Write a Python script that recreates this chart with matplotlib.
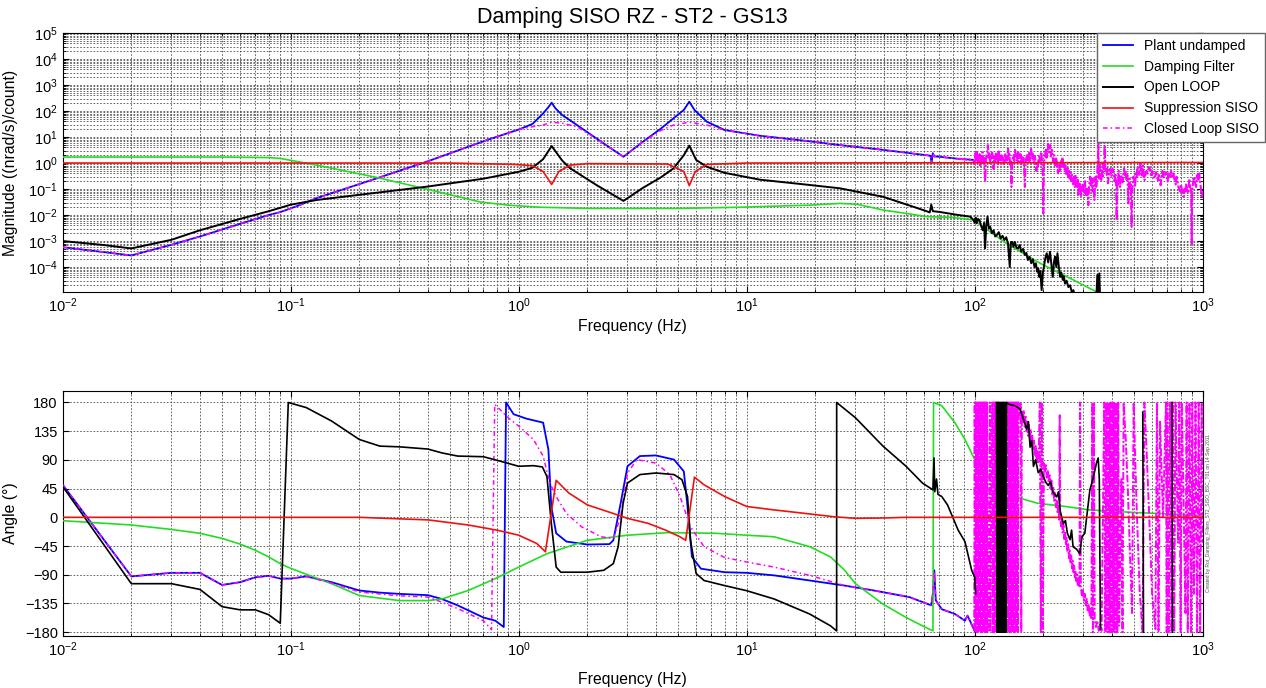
import matplotlib
matplotlib.use("Agg")
import matplotlib.pyplot as plt
from matplotlib.ticker import LogLocator, NullFormatter

plt.rcParams["font.family"] = ["Liberation Sans", "DejaVu Sans"]
plt.rcParams["mathtext.default"] = "regular"

NAN = float("nan")  # gaps where a trace is hidden behind another one

# ---------------- magnitude (top) ----------------
plant_mag_f = [0.01, 0.015, 0.02, 0.03, 0.04, 0.06, 0.08, 0.09, 0.108, 0.13, 0.2, 0.394,
               0.724, 1.01, 1.15, 1.28, 1.35, 1.395, 1.45, 1.55, 1.8, 2.3, 2.88, 3.5, 4.2,
               4.77, 5.3, 5.6, 5.9, 6.68, 8, 11.4, 18, 25.6, 39.8, 61.5, 64.0, 64.7, 65.5,
               66.5, 70, 85, 98.6]
plant_mag = [5.8e-4, 3.8e-4, 2.8e-4, 7.2e-4, 1.5e-3, 4.6e-3, 1.0e-2, 1.3e-2, 2.3e-2, 4.5e-2,
             0.155, 1.12, 7.6, 20, 32, 81, 141, 209, 126, 71, 29, 6.6, 1.74, 6.5, 21,
             52, 110, 229, 110, 39, 18.6, 11.2, 7.2, 4.9, 3.2, 2.0, 1.9, 1.0, 2.4,
             1.8, 1.74, 1.45, 1.32]

filter_mag_f = [0.01, 0.05, 0.08, 0.0897, 0.13, 0.238, 0.394, 0.676, 0.9, 1.24, 2, 5, 9.36,
                13.2, 18.9, 25.6, 30.5, 39.8, 50.3, 61.5, 80, 98.6, 138, 194, 271, 343,
                400, 1000]
filter_mag = [1.7, 1.7, 1.62, 1.51, 0.83, 0.28, 0.1, 0.032, 0.024, 0.02, 0.018, 0.018, 0.02,
              0.022, 0.024, 0.028, 0.026, 0.0155, 0.0115, 0.0087, 0.0081, 0.0065, 8.1e-4,
              1.38e-4, 3.2e-5, 1.1e-5, 5e-6, 1e-7]

loop_mag_f = [0.01, 0.015, 0.02, 0.03, 0.04, 0.06, 0.08, 0.1, 0.13, 0.2, 0.394, 0.7, 1.01,
              1.15, 1.28, 1.395, 1.55, 1.68, 2.2, 2.88, 3.5, 4.2, 4.77, 5.3, 5.6, 6.0, 6.68,
              8, 11.4, 18, 25.6, 39.8, 61.5, 63.5, 64.5, 65.5, 70, 85, 95.6]
loop_mag = [1.0e-3, 7.1e-4, 5.2e-4, 1.12e-3, 2.6e-3, 7.1e-3, 1.4e-2, 2.5e-2, 3.8e-2, 6.0e-2,
            0.123, 0.25, 0.47, 0.66, 1.41, 4.5, 1.26, 0.63, 0.14, 0.035, 0.11, 0.28, 0.62,
            2.0, 4.7, 1.32, 0.72, 0.42, 0.23, 0.15, 0.107, 0.05, 0.0141, 0.0126, 0.025,
            0.0141, 0.0132, 0.01, 0.0087]
# measured (noisy) part above 100 Hz
loop_mag_hf_f = [98.6, 100, 101, 102, 103.5, 105, 106.5, 108.5, 110, 111, 112.5, 113.8,
                 115.5, 117, 119, 121, 123, 125, 127.5, 130, 132.5, 135, 137.5, 140, 142.5,
                 144, 146, 148, 150, 152.5, 155, 157.5, 160, 163, 166, 168.5, 171, 174,
                 177, 180, 183, 185.5, 188, 190, 192, 194, 196.6, 199, 201, 204, 207, 210,
                 214, 217, 220, 222.5, 225, 228, 230.6, 234, 237, 240, 243.5, 246, 249,
                 253, 257.5, 262, 266.5, 271, 275.6, 290, 340, 345, 348.6, 352, 356, 400,
                 1000]
loop_mag_hf = [6.5e-3, 5.0e-3, 8.0e-3, 4.8e-3, 7.0e-3, 6.3e-3, 4.0e-3, 2.6e-3, 5.0e-3, 5.2e-4,
               4.0e-3, 8.7e-3, 3.0e-3, 3.5e-3, 2.0e-3, 2.6e-3, 1.5e-3, 1.7e-3, 2.2e-3, 1.26e-3,
               1.6e-3, 1.1e-3, 1.4e-3, 8.1e-4, 1.0e-4, 9.0e-4, 9.3e-4, 6.0e-4, 9.3e-4, 5.5e-4,
               5.2e-4, 7.0e-4, 3.9e-4, 5.0e-4, 2.9e-4, 3.5e-4, 1.86e-4, 2.5e-4, 1.4e-4, 2.0e-4,
               1.0e-4, 1.4e-4, 6.6e-5, 9.0e-5, 4.2e-5, 7.0e-5, 1.3e-5, 6.0e-5, 1.0e-4, 2.2e-4,
               3.4e-4, 1.5e-4, 3.9e-4, 1.2e-4, 4.2e-5, 1.5e-4, 2.5e-4, 1.0e-4, 3.4e-4, 1.0e-4,
               4.2e-5, 6.0e-5, 3.2e-5, 4.5e-5, 2.3e-5, 3.0e-5, 1.7e-5, 2.0e-5, 1.1e-5, 1.3e-5,
               7.2e-6, 3e-6, 2.5e-6, 5e-5, 3e-6, 5.7e-5, 2.5e-6, 1.6e-6, 1e-7]

supp_mag_f = [0.01, 0.5, 0.95, 1.15, 1.28, 1.395, 1.5, 1.68, 2.0, 4.5, 5.3, 5.6, 5.95, 6.68,
              10, 1000]
supp_mag = [1.0, 1.0, 0.89, 0.79, 0.47, 0.15, 0.47, 0.83, 0.95, 0.92, 0.47, 0.135, 0.47,
            0.89, 1.0, 1.05]

closed_mag_f = [0.01, 0.015, 0.02, 0.03, 0.04, 0.06, 0.08, 0.09, 0.108, 0.13, 0.2, 0.394,
                0.724, 1.01, 1.15, 1.28, 1.395, 1.55, 1.8, 2.3, 2.88, 3.5, 4.2, 4.77, 5.6,
                6.68, 8, 11.4, 18, 25.6, 39.8, 61.5, 64.0, 64.7, 65.5, 66.5, 70, 85]
closed_mag = [5.8e-4, 3.8e-4, 2.8e-4, 7.2e-4, 1.5e-3, 4.6e-3, 1.0e-2, 1.3e-2, 2.3e-2, 4.5e-2,
              0.155, 1.12, 7.6, 20, 25, 29, 37, 34, 25, 6.6, 1.74, 6.5, 17.8, 29, 37,
              29, 18.6, 11.2, 7.2, 4.9, 3.2, 2.0, 1.9, 1.0, 2.4, 1.8, 1.74, 1.45]
closed_mag_hf_f = [98.6, 99.5, 100, 100.6, 101.2, 102, 102.7, 103.4, 104.2, 105, 105.8, 106.6,
                   107.4, 108.2, 109, 109.8, 110.5, 111.2, 112, 112.8, 113.5, 114.3, 115, 116,
                   116.8, 117.6, 118.5, 119.3, 120.2, 121, 121.9, 122.8, 123.7, 124.6, 125.5,
                   126.4, 127.3, 128.2, 129.1, 130, 131, 132, 133, 134, 135, 136, 137, 138,
                   139, 140, 141, 142, 143, 144, 145, 146, 147, 148, 149.2, 150.4, 151.6,
                   152.8, 154, 155.2, 156.4, 157.6, 158.8, 160, 161.2, 162.4, 163.6, 164.8,
                   166, 167.2, 168.4, 169.6, 170.8, 172, 173.2, 174.4, 175.6, 176.8, 178,
                   179.4, 180.8, 182.2, 183.6, 185, 186.4, 187.8, 189.2, 190.6, 192, 193.4,
                   194.8, 196.2, 197.6, 199, 200, 201, 202.4, 203.8, 205.2, 206.6, 208,
                   209.5, 211, 212.5, 214, 215.5, 217, 218.5, 220, 221.5, 223, 224.5, 226,
                   227.5, 229, 230.5, 232, 233.5, 235, 236.5, 238, 239.5, 241, 242.5, 244,
                   245.5, 247, 248.5, 250, 251.5, 253, 254.5, 256, 257.5, 259, 261, 263, 265,
                   267, 269, 271, 273, 275, 277, 279, 281, 283, 285, 287, 289, 291, 293, 295,
                   297, 299, 301, 303, 305, 307, 309, 311, 313, 315, 317, 319, 321, 323, 325,
                   327, 329, 331, 333, 335, 337, 339, 341, 343, 345, 347, 348.6, 350, 352,
                   354, 356.5, 359, 361.5, 364, 366.5, 369, 371.5, 374, 376.5, 379, 381.5,
                   384, 387, 390, 393, 396, 399, 402, 405, 408, 411, 414, 417, 419.5, 422,
                   425, 428, 431, 434, 437, 440, 443, 446, 449, 452, 455, 458, 461, 464, 467,
                   470, 472, 475, 478, 481, 484, 488, 491, 494, 497, 501, 505, 509, 513, 517,
                   521, 526, 531, 536, 541, 546, 551, 556, 561, 566, 571, 576, 581, 586, 591,
                   596, 601, 606, 612, 618, 624, 630, 636, 642, 648, 654, 660, 666, 672, 678,
                   684, 690, 696, 702, 708, 714, 720, 726, 732, 738, 744, 750, 756, 762, 768,
                   775, 782, 789, 796, 803, 810, 817, 824, 831, 838, 845, 852, 859, 866, 873,
                   880, 887, 891, 895, 899, 905, 911, 917, 923, 929, 935, 941, 947, 953, 959,
                   965, 971, 977, 983, 989, 995, 1000]
closed_mag_hf = [1.32, 0.9, 1.1, 2.4, 1.3, 2.7, 1.2, 2.0, 1.0, 2.2, 0.8, 1.8,
                 1.1, 2.6, 0.9, 1.6, 0.5, 0.19, 1.4, 2.2, 3.0, 4.9, 1.6, 2.3,
                 1.0, 1.7, 1.32, 2.5, 1.1, 0.6, 1.8, 1.1, 2.3, 1.4, 2.0,
                 0.9, 2.8, 1.2, 1.9, 1.1, 2.0, 1.3, 1.74, 0.9, 1.5, 2.4, 1.1, 1.8,
                 1.3, 3.6, 1.7, 2.2, 0.8, 1.3, 0.12, 1.0, 1.6, 2.0, 1.2, 3.2, 1.6,
                 2.3, 1.2, 2.6, 1.1, 1.5, 2.2, 0.9, 1.7, 1.0, 1.6, 0.6,
                 0.12, 1.0, 1.6, 2.0, 1.1, 1.32, 2.8, 1.2, 1.8, 3.5, 1.6,
                 2.3, 1.3, 1.0, 1.9, 1.1, 0.5, 1.0, 0.72, 1.6, 2.0, 1.2,
                 2.2, 2.7, 1.0, 0.4, 0.0115, 0.8, 1.5, 2.0, 3.6, 1.6, 2.4,
                 5.5, 2.6, 3.4, 4.9, 1.8, 2.6, 3.2, 1.5, 1.1, 2.0, 1.74, 0.7,
                 1.5, 1.2, 0.6, 0.4, 0.9, 1.0, 0.5, 0.8, 1.2, 0.7, 1.5, 1.0,
                 0.6, 0.9, 0.5, 0.8, 0.35, 0.6, 0.4, 0.63, 0.3, 0.5, 0.25, 0.45, 0.2,
                 0.35, 0.3, 0.15, 0.3, 0.12, 0.35, 0.15, 0.12, 0.25, 0.06, 0.18, 0.1, 0.15, 0.05, 0.12,
                 0.08, 0.15, 0.07, 0.09, 0.2, 0.06, 0.12, 0.05, 0.1, 0.024, 0.1, 0.2, 0.3, 0.12, 0.166,
                 0.25, 0.08, 0.25, 0.1, 0.038, 0.15, 0.3, 0.12, 0.15, 0.5, 1.5, 5.8, 0.4, 0.25,
                 0.8, 0.3, 0.22, 0.5, 0.3, 1.0, 0.5, 4.9, 0.6, 0.4, 0.35, 0.6,
                 0.166, 0.3, 0.5, 0.6, 0.3, 0.35, 0.6, 0.54, 0.3, 0.2, 0.4, 0.15, 0.0063, 0.2,
                 0.15, 0.5, 0.25, 0.12, 0.3, 0.35, 0.2, 0.18, 0.4, 0.6, 0.35, 0.54, 0.3, 0.2, 0.35,
                 0.1, 0.028, 0.2, 0.25, 0.1, 0.15, 0.0035, 0.1, 0.15, 0.3, 0.2, 0.12, 0.4, 0.3, 0.7,
                 0.5, 0.35, 0.98, 0.45, 0.3, 0.8, 0.3, 0.22, 0.4, 0.5, 0.35, 0.5, 0.7, 0.63, 0.4,
                 0.3, 0.5, 0.35, 0.25, 0.3, 0.45, 0.3, 0.2, 0.35, 0.25, 0.14, 0.3, 0.5, 0.25, 0.4,
                 0.35, 0.45, 0.3, 0.2, 0.4, 0.3, 0.26, 0.5, 0.35, 0.3, 0.4, 0.25, 0.2, 0.15, 0.3,
                 0.2, 0.12, 0.1, 0.08, 0.15, 0.1, 0.06, 0.05, 0.1, 0.08, 0.15, 0.1, 0.07, 0.08, 0.25,
                 0.12, 0.1, 0.03, 0.00081, 0.05, 0.15, 0.2, 0.3, 0.26, 0.15, 0.12, 0.25, 0.35, 0.2, 0.22,
                 0.4, 0.25, 0.15, 0.1, 0.044, 0.06, 0.08]

# ---------------- phase (bottom) ----------------
plant_ph_f = [0.01, 0.02, 0.03, 0.04, 0.05, 0.06, 0.07, 0.08, 0.09, 0.1, 0.117, 0.151, 0.2,
              0.246, 0.3, 0.4, 0.46, 0.54, 0.7, 0.79, 0.86, 0.88, 0.95, 1.08, 1.28, 1.35,
              1.39, 1.46, 1.62, 2.0, 2.5, 2.6, 2.8, 3.0, 3.4, 4.0, 4.8, 5.3, 5.5, 5.75,
              6.3, 8, 10, 13.2, 18.9, 26.9, 36.5, 51.7, 64.5, 65.5, 66.5, 67.5, 71.7, 82,
              90.6, 93, 100]
plant_ph = [51, -92.6, -87, -87, -106, -101.6, -94, -91.6, -96, -96, -92.6, -101.6, -114.7,
            -118, -120, -122, -128, -138, -157, -162, -172, 180, 161.6, 154.7, 148.4, 106,
            17, -25, -38, -42.6, -42, -36, 22, 80, 96, 97, 90.5, 72, 17, -62,
            -80.5, -86, -87, -91, -99, -107, -115, -125, -138, -120, -83, -130, -144, -151.6,
            -162, -154, -178]

filter_ph_f = [0.01, 0.02, 0.03, 0.04, 0.05, 0.06, 0.07, 0.08, 0.09, 0.1, 0.151, 0.2, 0.3,
               0.4, 0.46, 0.6, 0.79, 1.0, 1.33, 2.0, 3, 4.5, 7.3, 10, 13.2, 18.9, 23.3, 26.9,
               30, 39.6, 50, 59, 65.6, 66, 71.7, 82, 90.6, 100, 105, 115, 130, 158, 189,
               250, 320, 510, 730, 1000]
filter_ph = [-5.3, -12, -19, -25, -33, -42, -51.6, -62, -72.6, -80, -104, -122.6, -130.5,
             -130.5, -128, -114.7, -96, -78, -57, -36, -28, -24, -25, -28, -30.5, -46, -62, -83,
             -104, -136, -157, -170, -178, 180, 175, 148, 122, 90.5, 80, 62, 45, 30, 22,
             17, 11.6, 7.4, 5.3, 2]

loop_ph_f = [0.01, 0.02, 0.03, 0.04, 0.05, 0.06, 0.07, 0.08, 0.09, 0.0976, 0.117, 0.151, 0.2,
             0.246, 0.3, 0.4, 0.46, 0.54, 0.7, 0.83, 1.0, 1.16, 1.27, 1.33, 1.39, 1.46, 1.53,
             2.0, 2.36, 2.6, 2.73, 2.87, 3.0, 3.4, 4.0, 4.8, 5.2, 5.5, 5.67, 6.0, 6.5, 8,
             10, 13.2, 18.9, 23.3, 24.8, 24.81, 30, 39.6, 50, 59, 65.6, 66.3, 66.8, 68, 69,
             71.7, 76, 84.6, 90.6, 93, 97]
loop_ph = [48.4, -104, -104, -113, -140, -145, -145, -152.6, -166, 180, 172, 151, 122,
           111.6, 110.5, 107, 101, 96, 95, 88, 80, 81, 79, 64, -9.5, -78, -86,
           -86, -83, -72.6, -46, 22, 53.7, 67, 69.5, 67, 59, 32.6, -36, -88, -99, -107,
           -115, -128, -151.6, -170, -178, 180, 156, 111.6, 80, 53.7, 43, 93, 40, 60, 36,
           32.6, 19.5, -20, -38, -55, -83]
loop_ph_hf_f = [100, 101, 102, 124.6,
                125.2, 125.8, 126.4, 127, 127.6, 128.2, 128.8, 129.4, 130, 130.6, 131.2,
                131.8, 132.4, 133, 133.6, 134.2, 134.8, 135.4, 136, 136.6, 137.2, 137.8,
                140, 145, 150, 158, 165, 169, 172, 175, 178, 181, 185, 190, 195, 200, 205,
                210, 215, 220, 229, 233, 237, 245, 250, 255, 262, 266, 270, 280, 289, 293,
                296, 304, 312, 320, 330, 342, 348, 352, 356, 358, 546, 550, 553, 733, 737,
                740]
loop_ph_hf = [-94, -120, NAN, 180,
              -180, 180, -180, 180, -180, 180, -180, 180, -180, 180, -180,
              180, -180, 180, -180, 180, -180, 180, -180, 180, -180, 180,
              178, 176, 175, 170, 150, 138, 150, 110, 120, 80, 90, 70, 75, 64, 55,
              50, 56, 40, 32, 40, 10, -10, -5, -25, -35, -20, -46, -50, -57, -40,
              -30, -25, 10, 43, 60, 85, 93, 60, -175, NAN, 165, -180, NAN, 180, -180,
              NAN]

supp_ph_f = [0.01, 0.2, 0.4, 0.6, 0.8, 1.0, 1.2, 1.31, 1.46, 1.66, 2, 2.6, 3, 3.7, 4.4, 5.1,
             5.4, 5.9, 6.5, 8, 10, 13.2, 18.9, 24, 30, 40, 50, 1000]
supp_ph = [0, 0, -4, -12, -20, -28, -41, -54, 58, 38, 19.5, 6, -1.6, -9.5, -20, -30.5,
           -36, 63, 51, 32.6, 17, 11.6, 5.3, 1, -1.6, -1, 0, 0]

closed_ph_f = [0.01, 0.02, 0.03, 0.04, 0.05, 0.06, 0.07, 0.08, 0.09, 0.1, 0.117, 0.151, 0.2,
               0.3, 0.4, 0.46, 0.54, 0.7, 0.76, 0.785, 0.9, 1.02, 1.16, 1.28, 1.37, 1.46,
               1.62, 1.89, 2.3, 2.6, 2.8, 3.0, 3.3, 4.0, 4.6, 5.1, 5.67, 6.5, 8, 10, 13.2,
               18.9, 26.9, 36.5, 51.7, 64.5, 65.5, 66.5, 67.5, 71.7, 82, 90.6, 93, 99.5]
closed_ph = [51, -92.6, -87, -87, -106, -101.6, -94, -91.6, -96, -96, -92.6, -103, -117,
             -123, -125, -133, -143, -162, -176, 177, 156, 140.5, 122, 96, 53.7, 32.6,
             6, -15, -30.5, -33, 1, 69.5, 90.5, 85, 67, 32.6, -15, -46, -63, -70, -78,
             -91, -107, -115, -125, -138, -120, -85, -130, -144, -151.6, -162, -154, -178]
closed_ph_hf_f = [100.0, 100.6, 101.2, 101.8, 102.4, 103.0, 103.6, 104.2, 104.8, 105.4, 106.0, 106.6,
                  107.2, 107.8, 108.4, 109.0, 109.6, 110.2, 110.8, 111.4, 112.0, 112.6, 113.2, 113.8,
                  115, 116.5, 117, 118.5, 119.5, 120, 121, 121.7, 122.4, 123.1, 123.8, 124.5,
                  127, 128, 131, 133, 134, 136,
                  138, 138.8, 139.6, 140.4, 141.2, 142, 142.8, 143.6, 144.4, 145.2, 146, 146.8,
                  147.6, 148.4, 149.2, 150, 150.8, 151.6, 152.4, 153.2, 154, 154.8, 155.6,
                  156.5, 158, 159, 160, 161, 162.5, 164, 165.5, 167, 168.5, 170, 171.5,
                  173, 174.5, 176, 177.5, 179, 180.5, 182, 183.5, 185, 186.5, 188, 189.5,
                  191, 193, 195, 197, 199, 201, 203, 205, 207, 209, 211, 213,
                  215, 217, 219, 221, 223, 225, 227, 229, 231, 233, 235, 236,
                  237, 239, 241, 243, 245, 247, 249, 251, 253, 255, 257, 259,
                  261, 263, 265, 267, 269, 271, 273, 275, 277, 279, 281, 283,
                  285, 288, 290, 292, 295, 298, 301, 304, 307, 310, 313, 316,
                  319, 322, 325, 328, 330, 333, 336, 340, 345, 350, 355, 360,
                  370, 374, 378, 382, 386, 390, 394, 398, 402, 406, 410, 414,
                  418, 422, 426, 430,
                  440, 445, 450, 460, 470, 480, 490, 498, 505, 515, 530, 545,
                  555, 565, 580, 600, 620, 630, 640, 650, 670, 690, 695, 700,
                  710, 720, 730, 740, 750, 760, 770, 780, 790, 800, 810, 825,
                  840, 850, 860, 875, 890, 900, 915, 930, 945, 960, 975, 990, 1000]
closed_ph_hf = [180, -180, 180, -180, 180, -180, 180, -180, 180, -180, 180, -180,
                180, -180, 180, -180, 180, -180, 180, -180, 180, -180, 180, -180,
                -150, 180, -180, 100, 180, -180, 180, -180, 180, -180, 180, -180,
                180, -180, -60, 180, -180, -100,
                180, -180, 180, -180, 180, -180, 180, -180, 180, -180, 180, -180,
                180, -180, 180, -180, 180, -180, 180, -180, 180, -180, 180,
                175, 160, 178, -180, 165, 150, 168, 142, 160, 135, 152, 128,
                145, 120, 138, 112, 128, 105, 120, 98, 112, 90, 104, 84,
                98, 180, -180, 180, -180, 85, 70, 82, 62, 74, 54, 66,
                45, 58, 36, 48, 26, 38, 16, 28, 6, 18, -4, 160,
                2, -14, -4, -24, -12, -34, -22, -44, -32, -54, -42, -64,
                -52, -72, -60, -80, -68, -88, -76, -94, -84, -100, -90, -106,
                -96, -110, 180, -108, -122, -112, -130, -120, -138, -128, -146, -136,
                -154, -144, -160, 180, -180, 180, -160, -172, -162, -178, -168, -178,
                180, -180, 180, -180, 180, -180, 180, -180, 180, -180, 180, -180,
                180, -180, 180, -170,
                60, -180, 180, 120, 40, -60, -150, 180, 100, 0, -120, -180,
                180, 120, 20, -120, -175, 180, -180, 150, 0, 180, -180, 180,
                -180, 180, -180, 180, -180, 180, 60, -40, 180, -180, 180, 20,
                -150, 180, -180, 180, -180, 180, -120, 180, -180, 180, -180, 180, -40]

BLUE = "#0000ff"
GREEN = "#22dd22"
RED = "#f01010"
MAGENTA = "#ff00ff"
CLOSED_LS = (0, (3, 2, 1, 2))      # dash-dot, smooth part
CLOSED_LS_HF = (0, (4, 1, 1, 1))   # dash-dot, dense measured part

fig = plt.figure(figsize=(12.66, 6.88), dpi=100)
ax1 = fig.add_axes([62.7 / 1266, 1 - 292 / 688, 1140 / 1266, 259 / 688])
ax2 = fig.add_axes([62.7 / 1266, 1 - 636 / 688, 1140 / 1266, 245 / 688])

# magnitude
h_plant, = ax1.loglog(plant_mag_f, plant_mag, color=BLUE, lw=1.3, zorder=2)
h_filt, = ax1.loglog(filter_mag_f, filter_mag, color=GREEN, lw=1.2, zorder=3)
h_closed, = ax1.loglog(closed_mag_f, closed_mag, color=MAGENTA, lw=1.1, ls=CLOSED_LS, zorder=4)
ax1.loglog(closed_mag_f[-1:] + closed_mag_hf_f, closed_mag[-1:] + closed_mag_hf,
           color=MAGENTA, lw=1.5, ls=CLOSED_LS_HF, zorder=4)
h_loop, = ax1.loglog(loop_mag_f + loop_mag_hf_f, loop_mag + loop_mag_hf, color="black",
                     lw=1.4, zorder=5)
h_supp, = ax1.loglog(supp_mag_f, supp_mag, color=RED, lw=1.2, zorder=6)

# phase
ax2.semilogx(plant_ph_f, plant_ph, color=BLUE, lw=1.3, zorder=2)
ax2.semilogx(filter_ph_f, filter_ph, color=GREEN, lw=1.2, zorder=3)
ax2.semilogx(closed_ph_f, closed_ph, color=MAGENTA, lw=1.1, ls=CLOSED_LS, zorder=4)
ax2.semilogx(closed_ph_f[-1:] + closed_ph_hf_f, closed_ph[-1:] + closed_ph_hf,
             color=MAGENTA, lw=1.4, ls=CLOSED_LS_HF, zorder=4)
ax2.semilogx(loop_ph_f + loop_ph_hf_f, loop_ph + loop_ph_hf, color="black", lw=1.2, zorder=5)
ax2.semilogx(supp_ph_f, supp_ph, color=RED, lw=1.2, zorder=6)

for ax in (ax1, ax2):
    ax.set_xlim(0.01, 1000)
    ax.xaxis.set_major_locator(LogLocator(base=10, numticks=12))
    ax.xaxis.set_minor_locator(LogLocator(base=10, subs=range(2, 10), numticks=12))
    ax.xaxis.set_minor_formatter(NullFormatter())
    ax.tick_params(which="both", direction="in", top=True, right=True, labelsize=10.5)
    ax.tick_params(which="major", length=4)
    ax.tick_params(which="minor", length=2)
    ax.set_xlabel("Frequency (Hz)", fontsize=11.3)

ax1.set_ylim(1.1e-5, 1e5)
ax1.yaxis.set_major_locator(LogLocator(base=10, numticks=12))
ax1.yaxis.set_minor_locator(LogLocator(base=10, subs=range(2, 10), numticks=12))
ax1.yaxis.set_minor_formatter(NullFormatter())
ax1.grid(True, which="both", ls=(0, (2, 2)), color="0.3", lw=0.6)

ax2.set_ylim(-186, 198)
ax2.set_yticks(range(-180, 181, 45))
ax2.grid(True, which="major", ls=(0, (2, 2)), color="0.3", lw=0.6)
ax2.grid(True, which="minor", axis="x", ls=(0, (2, 2)), color="0.3", lw=0.6)

ax1.set_ylabel("Magnitude ((nrad/s)/count)", fontsize=11.3)
ax2.set_ylabel("Angle (°)", fontsize=11.3)
ax1.yaxis.set_label_coords(-0.039, 0.5)
ax2.yaxis.set_label_coords(-0.039, 0.5)
ax1.xaxis.set_label_coords(0.5, -0.104)
ax2.xaxis.set_label_coords(0.5, -0.147)

ax1.text(0.5, 1.058, "Damping SISO RZ - ST2 - GS13", transform=ax1.transAxes,
         ha="center", va="center", fontsize=15.5)

ax2.text(1.003, 0.5, "Created by Rot_Damping_Filters_ST2_SISO_BSC_T01 on 14 Sep 2011",
         transform=ax2.transAxes, rotation=90, ha="left", va="center", fontsize=3.5,
         color="0.3")

leg = fig.legend([h_plant, h_filt, h_loop, h_supp, h_closed],
                 ["Plant undamped", "Damping Filter", "Open LOOP", "Suppression SISO",
                  "Closed Loop SISO"],
                 loc="upper right", bbox_to_anchor=(1265 / 1266, 1 - 33 / 688),
                 fontsize=10, fancybox=False, framealpha=1, edgecolor="0.4",
                 handlelength=2.2, borderaxespad=0, labelspacing=0.5)
leg.set_zorder(10)

fig.savefig("out.png", dpi=100)
